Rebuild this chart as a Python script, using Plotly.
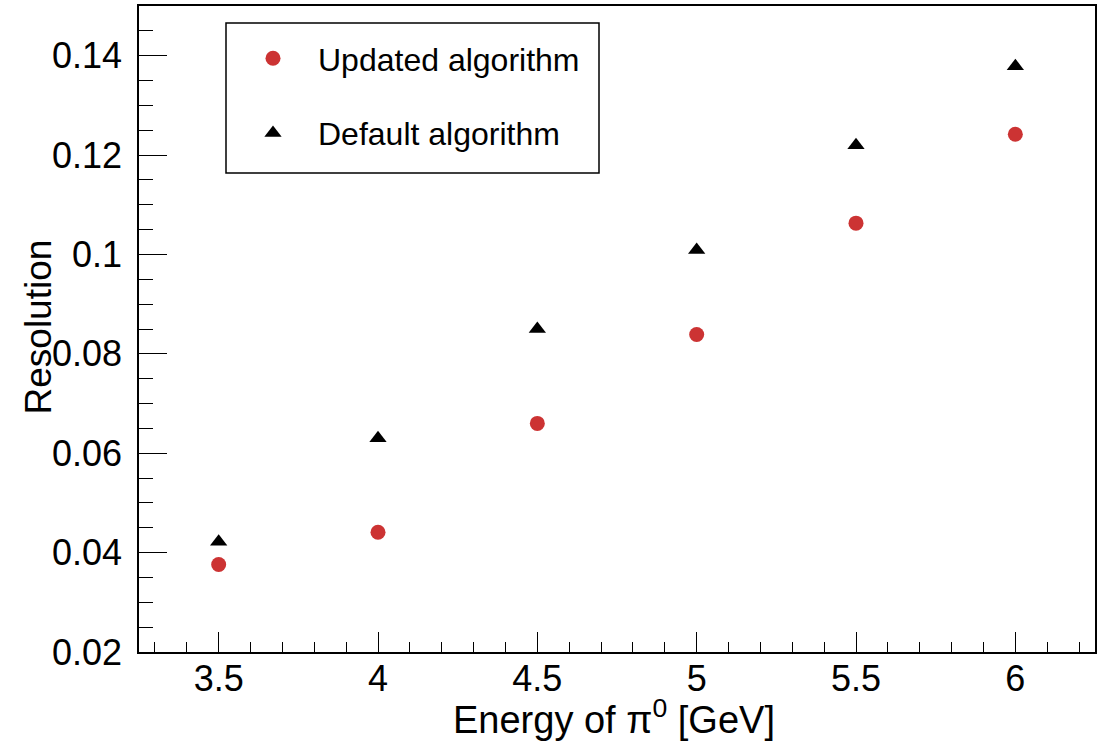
import plotly.graph_objects as go

energy = [3.5, 4.0, 4.5, 5.0, 5.5, 6.0]
updated = [0.0376, 0.0441, 0.0660, 0.0839, 0.1063, 0.1242]
default = [0.0422, 0.0630, 0.0850, 0.1009, 0.1220, 0.1379]

FONT = "Liberation Sans, Arial, Helvetica, sans-serif"
RED = "#cc3333"

fig = go.Figure()
fig.add_trace(go.Scatter(
    x=energy, y=updated, mode="markers", name="Updated algorithm",
    legendgroup="a",
    marker=dict(symbol="circle", size=15, color=RED, line=dict(width=0)),
))
fig.add_trace(go.Scatter(
    x=energy, y=default, mode="markers", name="Default algorithm",
    legendgroup="b",
    marker=dict(symbol="triangle-up", size=15, color="black", line=dict(width=0)),
))

L, R, T, B = 139, 5, 6, 89
W, H = 1100, 741
pw = W - L - R
ph = H - T - B

def px_x(p):
    return (p - L) / pw

def px_y(p):
    return (H - B - p) / ph

axis_common = dict(
    showgrid=False, zeroline=False,
    showline=True, linecolor="black", linewidth=1.5, mirror=True,
    ticks="inside", tickcolor="black", tickwidth=1.2,
    tickfont=dict(family=FONT, size=36, color="black"),
)

fig.update_xaxes(
    range=[3.25, 6.25], tick0=3.5, dtick=0.5, ticklen=20,
    minor=dict(dtick=0.1, tick0=3.3, ticks="inside", ticklen=10, tickcolor="black", tickwidth=1.2),
    ticklabelstandoff=-6,
    **axis_common,
)
fig.update_yaxes(
    range=[0.02, 0.15], tick0=0.02, dtick=0.02, ticklen=28,
    minor=dict(dtick=0.005, tick0=0.02, ticks="inside", ticklen=14, tickcolor="black", tickwidth=1.2),
    ticklabelstandoff=8,
    **axis_common,
)

fig.add_annotation(
    text="Energy of \u03c0<sup>0</sup> [GeV]", xref="paper", yref="paper",
    x=px_x(614), y=px_y(717), xanchor="center", yanchor="middle", showarrow=False,
    font=dict(family=FONT, size=38, color="black"),
)
fig.add_annotation(
    text="Resolution", xref="paper", yref="paper", textangle=-90,
    x=px_x(37.5), y=px_y(327), xanchor="center", yanchor="middle", showarrow=False,
    font=dict(family=FONT, size=37, color="black"),
)

# legend frame
fig.add_shape(
    type="rect", xref="paper", yref="paper",
    x0=px_x(226), x1=px_x(599), y0=px_y(173), y1=px_y(23),
    line=dict(color="black", width=1.5), fillcolor="white", layer="below",
)

fig.update_layout(
    width=W, height=H,
    margin=dict(l=L, r=R, t=T, b=B, autoexpand=False),
    paper_bgcolor="white", plot_bgcolor="white",
    showlegend=True,
    legend=dict(
        x=px_x(228), y=px_y(31), xanchor="left", yanchor="top",
        bgcolor="rgba(0,0,0,0)", borderwidth=0,
        font=dict(family=FONT, size=32, color="black"),
        itemwidth=80, tracegroupgap=30,
    ),
)

fig.write_html("out.html", config={"displayModeBar": False},
               post_script="document.body.style.margin='0px';")
